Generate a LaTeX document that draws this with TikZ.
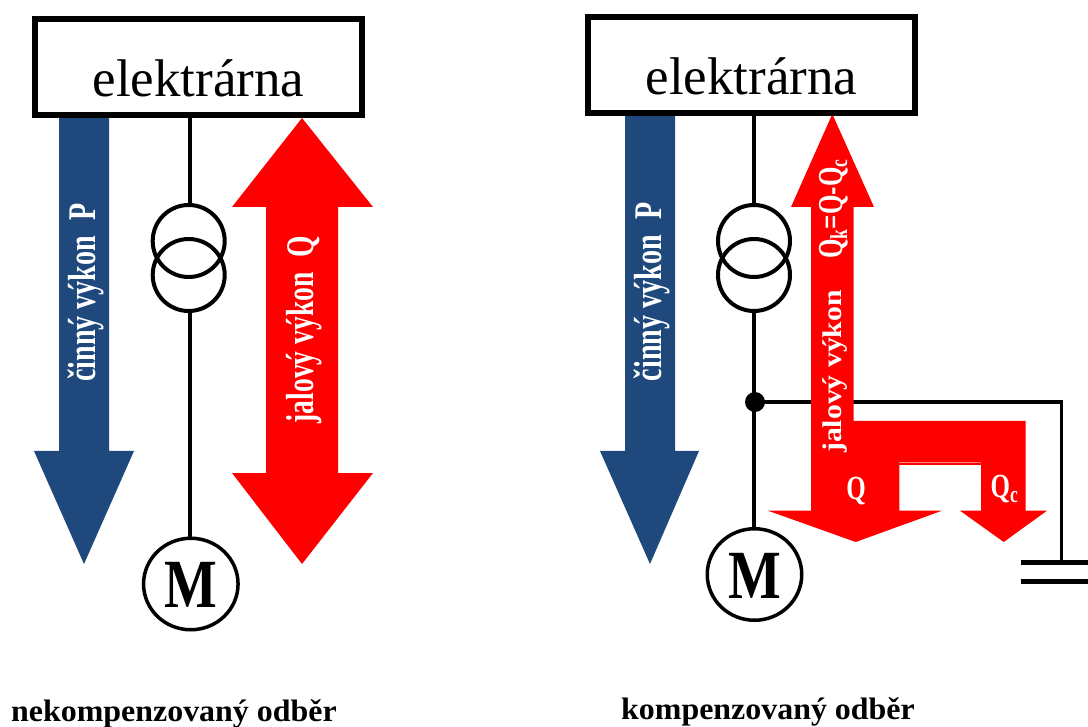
\documentclass[tikz,border=0pt]{standalone}
\usepackage{fontspec}
\usetikzlibrary{shapes.geometric}
\setmainfont{Liberation Serif}
\definecolor{pblue}{RGB}{31,73,125}
\definecolor{qred}{RGB}{255,0,0}
\definecolor{seam}{RGB}{255,130,130}
\tikzset{
  x=1pt,y=-1pt,
  plant/.style={draw=black,line width=6pt,fill=white,minimum width=327pt,minimum height=96pt,inner sep=0pt},
  plantlabel/.style={font=\fontsize{53}{53}\selectfont,anchor=base,inner sep=0pt},
  coil/.style={circle,draw=black,line width=4pt,minimum size=72pt,inner sep=0pt},
  motor/.style={ellipse,draw=black,line width=3.5pt,fill=white,minimum width=94.5pt,minimum height=91.5pt,inner sep=0pt},
  motorlabel/.style={font=\bfseries\fontsize{69}{69}\selectfont,inner sep=0pt,xscale=.81},
  wire/.style={draw=black,line width=4pt},
  thinwire/.style={draw=black,line width=3.5pt},
  plate/.style={draw=black,line width=5pt},
  dot/.style={circle,fill=black,minimum size=20pt,inner sep=0pt},
  flowlabel/.style={text=white,font=\bfseries\fontsize{27}{27}\selectfont,inner sep=0pt,rotate=90,anchor=base},
  flowq/.style={text=white,font=\bfseries\fontsize{25}{25}\selectfont,inner sep=0pt},
  caption/.style={font=\bfseries\fontsize{31}{31}\selectfont,anchor=base west,inner sep=0pt,xscale=1.03},
}
\begin{document}
\begin{tikzpicture}
\useasboundingbox (0,0) rectangle (1088,727);
% left
\fill[pblue] (59,118)--(109,118)--(109,451)--(134,451)--(84,564)--(34,451)--(59,451)--cycle;
\fill[qred] (302,118)--(373,207)--(338,207)--(338,473)--(373,473)--(302,564)--(232,473)--(266,473)--(266,207)--(232,207)--cycle;
\node[plant] (boxL) at (198.5,67) {};
\node[plantlabel] (plantL) at (198.5,97) {elektrárna};
\node[coil] (tL1) at (188.7,241) {};
\node[coil] (tL2) at (188.7,275) {};
\node[motor] (mL) at (190.8,584) {};
\node[motorlabel] at (190.8,585) {M};
\draw[wire] ([xshift=1.2pt]tL1.north) -- ([xshift=1.2pt]tL1.north |- boxL.south);
\draw[wire] ([xshift=1.2pt]tL2.south) -- ([xshift=1.2pt]tL2.south |- mL.north);
\node[flowlabel,xscale=1.04,yscale=1.45] (lpL) at (95,292.5) {činný výkon\hspace{8pt} P};
\node[flowlabel,xscale=1.02,yscale=1.45] (lqL) at (313,329.6) {jalový výkon\hspace{8pt} Q};
\node[caption] (capL) at (11,721.5) {nekompenzovaný odběr};
% right wires under red
\node[dot] (junc) at (755,402) {};
\coordinate (corner) at (1061.7,402);
\coordinate (capTop) at (1061.7,562.7);
\draw[thinwire] (junc.center) -- (corner) -- (capTop);
\coordinate (p1a) at (1020.7,562.7); \coordinate (p1b) at (1088,562.7);
\coordinate (p2a) at (1020.7,581); \coordinate (p2b) at (1088,581);
\draw[plate] (p1a) -- (p1b);
\draw[plate] (p2a) -- (p2b);
\fill[pblue] (625,115)--(675,115)--(675,451)--(699,451)--(650,564)--(600,451)--(625,451)--cycle;
\fill[qred] (832.3,114)--(874,207)--(853.7,207)--(853.7,421)--(1025.7,421)--(1025.7,510.7)--(1047,510.7)--(1003.7,542)--(960,510.7)--(981,510.7)--(981,465)--(899.3,465)--(899.3,510.7)--(942,510.7)--(855.7,542)--(768,510.7)--(811,510.7)--(811,207)--(791,207)--cycle;
\coordinate (seamA) at (899.3,462.3); \coordinate (seamB) at (981,462.3);
\draw[seam,line width=1pt] (seamA) -- (seamB);
\node[plant] (boxR) at (751.5,65) {};
\node[plantlabel] (plantR) at (751.5,95) {elektrárna};
\node[coil] (tR1) at (754,241) {};
\node[coil] (tR2) at (754,275) {};
\node[motor] (mR) at (754.5,574.5) {};
\node[motorlabel] at (755,575.7) {M};
\draw[wire] (tR1.north) -- (tR1.north |- boxR.south);
\draw[wire] (tR2.south) -- (tR2.south |- mR.north);
\node[flowlabel,xscale=1.04,yscale=1.45] (lpR) at (661,292) {činný výkon\hspace{8pt} P};
\node[flowlabel,xscale=1.1] (lqR) at (841,371.5) {jalový výkon};
\node[flowq,rotate=90,anchor=base,yscale=1.4] (lqk) at (842,209) {Q\textsubscript{k}=Q-Q\textsubscript{c}};
\node[flowq,anchor=base,yscale=1.35] (lq) at (856,500) {Q};
\node[flowq,anchor=base west,yscale=1.35] (lqc) at (990.5,497) {Q\textsubscript{c}};
\node[caption] (capR) at (621,719) {kompenzovaný odběr};
\end{tikzpicture}
\end{document}
